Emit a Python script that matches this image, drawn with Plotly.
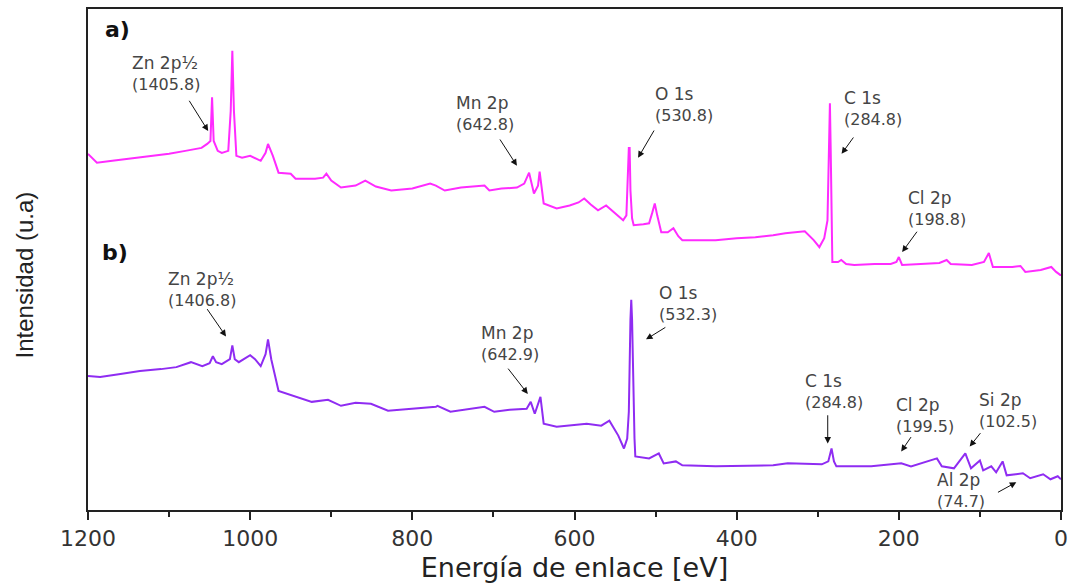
import plotly.graph_objects as go

# ---------------- data (binding energy in eV, intensity in a.u.) ----------------
energy_a = [1200, 1189, 1170, 1150, 1120, 1100, 1080, 1060, 1053, 1049, 1047, 1045, 1040, 1035, 1027,
            1024, 1022, 1020, 1017, 1010, 1000, 987, 981, 978, 972, 965, 950, 944, 920, 910, 906, 900,
            888, 870, 858, 845, 826, 800, 778, 771, 760, 740, 711, 705, 690, 671, 662, 656, 650, 645,
            643, 640, 638, 622, 606, 595, 588, 580, 571, 561, 550, 540, 536, 534, 533, 532, 531, 529,
            527, 515, 508, 504, 501, 498, 493, 485, 478, 472, 467, 450, 426, 400, 377, 355, 340, 316,
            305, 298, 292, 288, 286, 285, 284, 283, 282, 275, 271, 265, 255, 230, 210, 203, 200, 196,
            170, 150, 141, 136, 110, 95, 89, 84, 60, 50, 44, 25, 12, 6, 1, 0]
intensity_a = [359, 350, 352, 354, 357, 359, 362, 365, 369, 372, 416, 372, 362, 360, 362,
               402, 463, 402, 357, 355, 357, 352, 360, 369, 357, 340, 339, 334, 334, 335, 339, 332,
               325, 327, 332, 326, 322, 324, 329, 327, 322, 325, 327, 322, 324, 325, 329, 340, 319, 327,
               341, 322, 309, 304, 307, 310, 314, 308, 302, 307, 299, 292, 297, 332, 365, 365, 322, 294,
               287, 288, 289, 300, 309, 297, 280, 280, 284, 276, 272, 272, 272, 274, 275, 277, 279, 281,
               272, 265, 274, 292, 362, 410, 362, 272, 250, 250, 252, 248, 247, 248, 248, 250, 255, 247,
               248, 249, 252, 248, 247, 250, 259, 245, 245, 246, 240, 242, 245, 240, 237, 237]

energy_b = [1200, 1185, 1160, 1136, 1110, 1091, 1073, 1059, 1050, 1046, 1042, 1035, 1025, 1022, 1019,
            1014, 1000, 994, 987, 981, 978, 974, 965, 944, 924, 904, 888, 870, 851, 830, 800, 771,
            769, 753, 711, 699, 680, 659, 654, 649, 642, 638, 622, 585, 567, 557, 546, 539, 535, 533,
            531, 530, 529, 527, 526, 525, 508, 496, 490, 475, 467, 426, 355, 337, 295, 287, 283, 280,
            277, 234, 197, 185, 153, 147, 132, 118, 111, 100, 96, 86, 80, 72, 67, 47, 38, 22, 13, 4, 0]
intensity_b = [135, 134, 137, 140, 142, 144, 149, 145, 148, 155, 149, 147, 152, 166, 152,
               149, 156, 152, 145, 157, 172, 152, 120, 114, 109, 111, 105, 108, 107, 100, 102, 104,
               105, 99, 104, 99, 101, 102, 109, 97, 114, 87, 84, 87, 85, 90, 75, 62, 72, 99,
               192, 212, 192, 99, 72, 54, 52, 57, 47, 49, 45, 44, 45, 47, 46, 49, 62, 49,
               44, 44, 47, 44, 52, 44, 42, 57, 42, 50, 40, 44, 38, 49, 35, 37, 32, 36, 31, 34, 31]

x_ticks = [1200, 1000, 800, 600, 400, 200, 0]

# peak labels: (line1, line2, text x [eV], text y [a.u.])
labels = [
    ("Zn 2p½", "(1405.8)", 1148.6, 439.5),
    ("Mn 2p", "(642.8)", 748.2, 399.5),
    ("O 1s", "(530.8)", 503.3, 409),
    ("C 1s", "(284.8)", 270.6, 405),
    ("Cl 2p", "(198.8)", 191.0, 304),
    ("Zn 2p½", "(1406.8)", 1103.3, 222.5),
    ("Mn 2p", "(642.9)", 717.5, 168),
    ("O 1s", "(532.3)", 498.4, 208.5),
    ("C 1s", "(284.8)", 318.4, 119.5),
    ("Cl 2p", "(199.5)", 205.7, 95.5),
    ("Si 2p", "(102.5)", 104.1, 100),
    ("Al 2p", "(74.7)", 155.5, 20),
]
# arrows: (tail x, tail y, head x, head y) in eV / a.u.
arrows = [
    (1076.3, 414, 1051.8, 382),
    (693.1, 375, 671.0, 347),
    (500.8, 384, 521.6, 355),
    (254.7, 377, 270.6, 359),
    (176.3, 282, 195.9, 260),
    (1054.3, 204, 1029.8, 175),
    (683.3, 144, 657.6, 117),
    (486.1, 185, 511.8, 172),
    (287.7, 97, 287.7, 67),
    (183.7, 75, 197.1, 59),
    (97.9, 79, 112.6, 64),
    (79.6, 17, 55.1, 28),
]

fig = go.Figure()
fig.add_trace(go.Scatter(x=energy_a, y=intensity_a, mode="lines",
                         line=dict(color="#ff2bff", width=2), showlegend=False))
fig.add_trace(go.Scatter(x=energy_b, y=intensity_b, mode="lines",
                         line=dict(color="#8f2cf2", width=2), showlegend=False))

annotations = []
for l1, l2, tx, ty in labels:
    annotations.append(dict(
        x=tx, y=ty, xref="x", yref="y", xanchor="left", yanchor="middle", align="left",
        showarrow=False,
        text=f"<span style='font-size:17px'>{l1}</span><br>{l2}",
        font=dict(family="DejaVu Sans", size=16, color="#454545")))
for tx, ty, hx, hy in arrows:
    annotations.append(dict(
        x=hx, y=hy, ax=tx, ay=ty, xref="x", yref="y", axref="x", ayref="y",
        text="", showarrow=True, arrowhead=2, arrowsize=1.3, arrowwidth=1,
        arrowcolor="#111"))
annotations += [
    dict(x=0.0153, y=0.960, xref="paper", yref="paper", xanchor="left", yanchor="middle",
         showarrow=False, text="<b>a)</b>", font=dict(family="DejaVu Sans", size=22, color="#111")),
    dict(x=0.0122, y=0.513, xref="paper", yref="paper", xanchor="left", yanchor="middle",
         showarrow=False, text="<b>b)</b>", font=dict(family="DejaVu Sans", size=22, color="#111")),
    dict(x=-0.0653, y=0.469, xref="paper", yref="paper", xanchor="center", yanchor="middle",
         showarrow=False, textangle=-90, text="Intensidad (u.a)",
         font=dict(family="Liberation Sans Narrow, Liberation Sans", size=24, color="#222")),
]

fig.update_layout(
    width=1075, height=585,
    margin=dict(l=88, r=7, t=7, b=73),
    paper_bgcolor="white", plot_bgcolor="white",
    annotations=annotations,
    xaxis=dict(
        range=[1200, 0], tickmode="array", tickvals=x_ticks,
        ticktext=[str(v) for v in x_ticks],
        ticks="outside", ticklen=8, tickwidth=2, tickcolor="#222",
        minor=dict(dtick=100, tick0=0, ticks="outside", ticklen=5, tickwidth=2, tickcolor="#222"),
        showline=True, linecolor="#222", linewidth=2, mirror=True,
        showgrid=False, zeroline=False,
        tickfont=dict(family="DejaVu Sans", size=22, color="#333"),
        title=dict(text="Energía de enlace [eV]", standoff=8,
                   font=dict(family="DejaVu Sans", size=27, color="#222")),
    ),
    yaxis=dict(
        range=[0, 505], showticklabels=False, ticks="",
        showline=True, linecolor="#222", linewidth=2, mirror=True,
        showgrid=False, zeroline=False,
    ),
)

fig.write_html("out.html")
